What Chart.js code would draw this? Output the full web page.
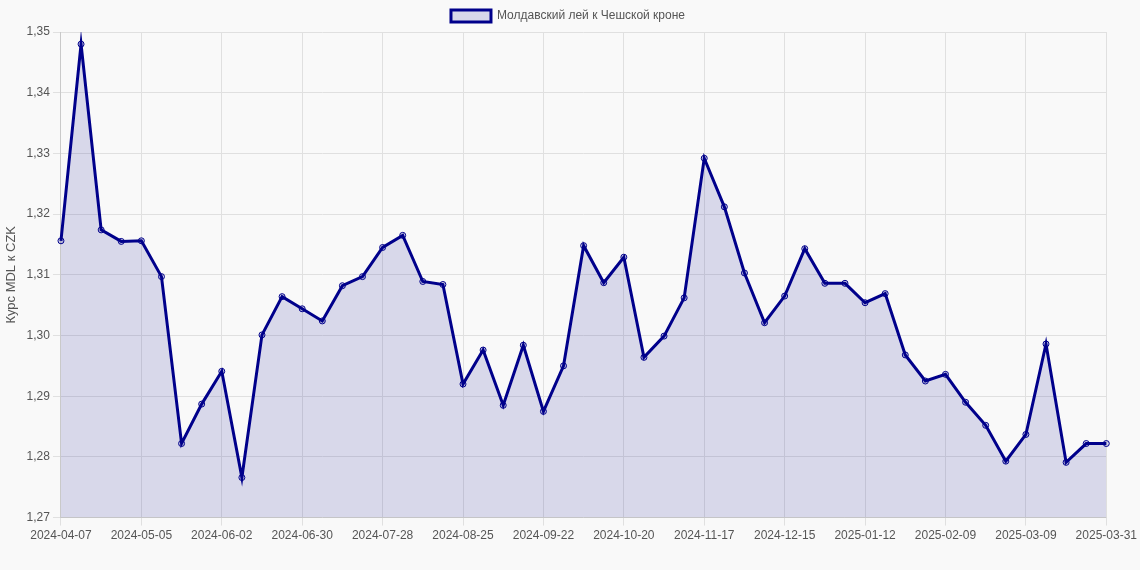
<!DOCTYPE html>
<html><head><meta charset="utf-8">
<script src="https://cdn.jsdelivr.net/npm/chart.js@4/dist/chart.umd.min.js"></script>
<style>html,body{margin:0;padding:0;background:#f9f9f9;}#w{width:1140px;height:570px;}</style>
</head><body><div id="w"><canvas id="c"></canvas></div>
<script>
const labels=(function(){const a=[];let d=new Date(Date.UTC(2024,3,7));for(let i=0;i<52;i++){a.push(d.toISOString().slice(0,10));d=new Date(d.getTime()+7*864e5);}a.push('2025-03-31');return a;})();
const rates=[1.3156,1.3480,1.3174,1.3155,1.3156,1.3097,1.2822,1.2887,1.2941,1.2766,1.3001,1.3064,1.3044,1.3024,1.3082,1.3097,1.3145,1.3165,1.3089,1.3084,1.2920,1.2976,1.2885,1.2984,1.2875,1.2950,1.3148,1.3087,1.3129,1.2964,1.2999,1.3062,1.3292,1.3212,1.3103,1.3021,1.3065,1.3143,1.3086,1.3086,1.3054,1.3069,1.2968,1.2925,1.2936,1.2890,1.2852,1.2793,1.2837,1.2986,1.2791,1.2822,1.2822];
const F='"Liberation Sans", Arial, sans-serif';
const shown=i=>i%4===0||i===labels.length-1;
new Chart(document.getElementById('c'),{type:'line',
data:{labels:labels,datasets:[{label:'Молдавский лей к Чешской кроне',data:rates,borderColor:'#00008b',backgroundColor:'rgba(0,0,139,0.13)',borderWidth:3,fill:true,tension:0,pointRadius:3,pointBorderWidth:1,pointBackgroundColor:'rgba(0,0,139,0.15)',pointBorderColor:'#00008b'}]},
options:{responsive:true,maintainAspectRatio:false,animation:false,
layout:{padding:{right:4,bottom:24}},
plugins:{legend:{labels:{font:{family:F,size:12},color:'#555'}}},
scales:{x:{grid:{color:c=>shown(c.index)?'#e0e0e0':'rgba(0,0,0,0)'},ticks:{autoSkip:false,maxRotation:0,color:'#555',font:{family:F,size:12},callback:function(v,i){return shown(i)?labels[i]:'';}}},
y:{min:1.27,max:1.35,grid:{color:'#e0e0e0'},title:{display:true,text:'Курс MDL к CZK',color:'#555',font:{family:F,size:13}},ticks:{stepSize:0.01,color:'#555',font:{family:F,size:12},callback:v=>v.toFixed(2).replace('.',',')}}}}});
</script></body></html>
